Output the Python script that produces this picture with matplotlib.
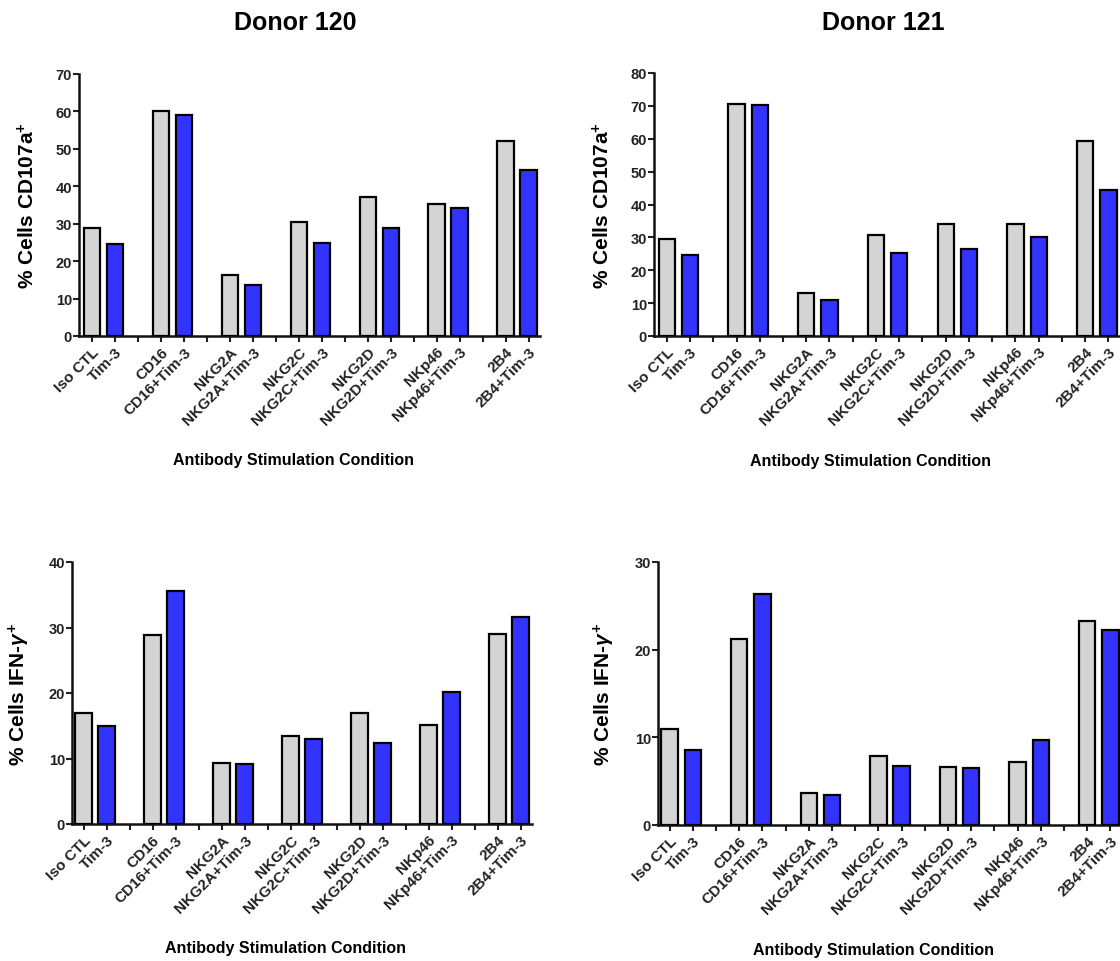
import matplotlib.pyplot as plt
import numpy as np

plt.rcParams['font.family'] = ['Liberation Sans', 'DejaVu Sans']
plt.rcParams['font.weight'] = 'bold'
plt.rcParams['mathtext.fontset'] = 'custom'
plt.rcParams['mathtext.rm'] = 'Liberation Sans:bold'
plt.rcParams['mathtext.bf'] = 'Liberation Sans:bold'
plt.rcParams['mathtext.it'] = 'Liberation Sans:italic'

# Conditions, in plotting order (pairs: antibody alone, antibody + Tim-3)
conditions = ['Iso CTL', 'Tim-3', 'CD16', 'CD16+Tim-3', 'NKG2A', 'NKG2A+Tim-3',
              'NKG2C', 'NKG2C+Tim-3', 'NKG2D', 'NKG2D+Tim-3', 'NKp46', 'NKp46+Tim-3',
              '2B4', '2B4+Tim-3']

# % CD107a+ cells
cd107a_120 = [28.9, 24.5, 60.2, 59.0, 16.3, 13.5, 30.4, 24.9, 37.2, 28.8, 35.4, 34.2, 52.0, 44.3]
cd107a_121 = [29.5, 24.5, 70.6, 70.4, 13.1, 10.9, 30.8, 25.3, 34.0, 26.5, 34.2, 30.0, 59.2, 44.4]

# % IFN-gamma+ cells
ifng_120 = [16.9, 15.0, 28.9, 35.5, 9.3, 9.1, 13.4, 13.0, 17.0, 12.3, 15.1, 20.2, 29.0, 31.6]
ifng_121 = [11.0, 8.5, 21.2, 26.3, 3.6, 3.4, 7.9, 6.7, 6.6, 6.5, 7.2, 9.7, 23.3, 22.2]

ymax = {'cd107a_120': 70, 'cd107a_121': 80, 'ifng_120': 40, 'ifng_121': 30}

gray = '#d4d4d4'
blue = '#3333ff'

W, H = 1120, 962
fig = plt.figure(figsize=(W / 100, H / 100), dpi=100)


def px_axes(left, top, right, bottom):
    return fig.add_axes([left / W, 1 - bottom / H, (right - left) / W, (bottom - top) / H])


def draw_panel(ax, values, top, ylabel, xlim):
    n = len(values)
    idx = np.arange(n)
    slots = idx + idx // 2  # leave an empty slot after each pair
    colors = [gray if i % 2 == 0 else blue for i in idx]
    ax.bar(slots, values, width=0.7, color=colors, edgecolor='black', linewidth=1.6, zorder=3)

    nslots = slots[-1] + 1
    labels = [''] * nslots
    for s, c in zip(slots, conditions):
        labels[s] = c
    ax.set_xticks(np.arange(nslots))
    ax.set_xticklabels(labels, rotation=45, ha='right', rotation_mode='anchor', fontsize=11,
                       fontweight='bold')
    ax.set_xlim(*xlim)
    ax.set_ylim(0, top)
    ax.set_yticks(np.arange(0, top + 1, 10))
    ax.tick_params(axis='y', labelsize=10.5, length=4, width=1.5, pad=1, colors='#222222')
    ax.tick_params(axis='x', length=4, width=1.5, pad=2, colors='#222222')
    for side in ['top', 'right']:
        ax.spines[side].set_visible(False)
    for side in ['left', 'bottom']:
        ax.spines[side].set_linewidth(1.8)
        ax.spines[side].set_color('#111111')
    ax.set_ylabel(ylabel, fontsize=15, fontweight='bold')
    ax.yaxis.set_label_coords(-0.088, 0.5)
    ax.text(0.465, -0.472, 'Antibody Stimulation Condition', transform=ax.transAxes,
            ha='center', va='center', fontsize=11.5, fontweight='bold')


ax1 = px_axes(79, 75, 540, 337)
draw_panel(ax1, cd107a_120, ymax['cd107a_120'], r'% Cells CD107a$^{\mathbf{+}}$', (-0.55, 19.5))

ax2 = px_axes(654, 74, 1120, 337)
draw_panel(ax2, cd107a_121, ymax['cd107a_121'], r'% Cells CD107a$^{\mathbf{+}}$', (-0.55, 19.5))

ax3 = px_axes(72, 563, 532, 825)
draw_panel(ax3, ifng_120, ymax['ifng_120'], r'% Cells IFN-$\gamma^{\mathbf{+}}$', (-0.5, 19.5))

ax4 = px_axes(658, 563, 1122, 826)
draw_panel(ax4, ifng_121, ymax['ifng_121'], r'% Cells IFN-$\gamma^{\mathbf{+}}$', (-0.5, 19.5))

fig.text(295 / W, 1 - 23 / H, 'Donor 120', ha='center', va='center', fontsize=18, fontweight='bold')
fig.text(883 / W, 1 - 23 / H, 'Donor 121', ha='center', va='center', fontsize=18, fontweight='bold')

fig.savefig('out.png', dpi=100)
